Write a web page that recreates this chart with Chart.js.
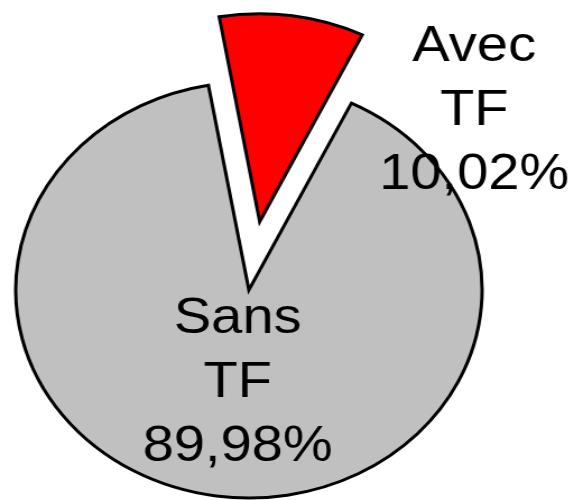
<!DOCTYPE html>
<html>
<head>
<meta charset="utf-8">
<script src="https://cdn.jsdelivr.net/npm/chart.js@4/dist/chart.umd.min.js"></script>
<style>
  html, body { margin: 0; padding: 0; background: #fff; overflow: hidden; }
</style>
</head>
<body>
<!-- the original picture is stretched sideways, so the canvas is drawn narrow and widened by its inline style -->
<canvas id="pie" width="512" height="500" style="display:block;width:574px;height:500px"></canvas>
<script>
const labels = ['Avec TF', 'Sans TF'];
const shares = [10.02, 89.98];
const sliceColors = ['#FF0000', '#C0C0C0'];

// how far each slice is pulled out of the pie (px)
const explode = [69, 0];

// Pull exploded slices out along their mid angle
const explodePlugin = {
    id: 'explode',
    afterDatasetUpdate(chart, args) {
        args.meta.data.forEach((arc, i) => {
            const d = explode[i] || 0;
            if (!d) return;
            const mid = (arc.startAngle + arc.endAngle) / 2;
            arc.x += Math.cos(mid) * d;
            arc.y += Math.sin(mid) * d;
        });
    }
};

// Excel-like data labels: name on two lines + percentage
const sliceLabels = {
    id: 'sliceLabels',
    afterDraw(chart, args, opts) {
        const ctx = chart.ctx;
        const area = chart.chartArea;
        const cx = (area.left + area.right) / 2;
        const cy = (area.top + area.bottom) / 2;
        ctx.save();
        ctx.font = opts.font;
        ctx.fillStyle = '#000';
        ctx.textAlign = 'center';
        ctx.textBaseline = 'alphabetic';
        chart.data.labels.forEach((lab, i) => {
            const pos = opts.anchors[i];
            const val = chart.data.datasets[0].data[i];
            const lines = lab.split(' ').concat([val.toFixed(2).replace('.', ',') + '%']);
            lines.forEach((t, k) => {
                ctx.fillText(t, cx + pos.dx, cy + pos.dy + (k - 1) * opts.lineHeight);
            });
        });
        ctx.restore();
    }
};

new Chart(document.getElementById('pie'), {
    type: 'pie',
    data: {
        labels: labels,
        datasets: [{
            data: shares,
            backgroundColor: sliceColors,
            borderColor: '#000',
            borderWidth: 3,
            borderJoinStyle: 'miter',
            clip: false
        }]
    },
    options: {
        responsive: false, animation: false, devicePixelRatio: 1,
        radius: 208, rotation: -10,
        layout: { padding: { top: 80, right: 68, bottom: 0, left: 0 } },
        events: [],
        plugins: {
            legend: { display: false },
            tooltip: { enabled: false },
            sliceLabels: {
                font: '50px "Liberation Sans", Arial, sans-serif',
                lineHeight: 64,
                anchors: [{ dx: 201, dy: -165 }, { dx: -10, dy: 107 }]
            }
        }
    },
    plugins: [explodePlugin, sliceLabels]
});
</script>
</body>
</html>
